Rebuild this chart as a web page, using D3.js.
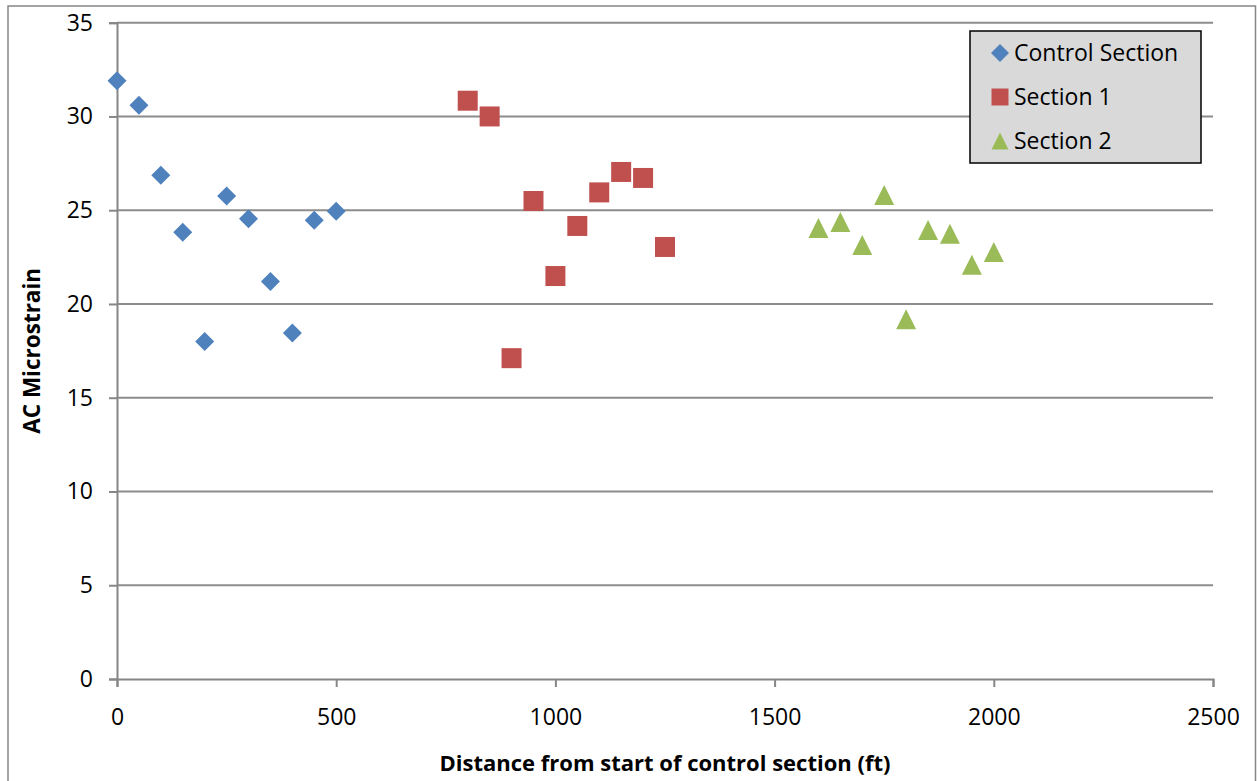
<!DOCTYPE html>
<html>
<head>
<meta charset="utf-8">
<script src="https://cdn.jsdelivr.net/npm/d3@7"></script>
<style>
  body { margin: 0; background: #fff; }
  svg { display: block; font-family: "Open Sans", sans-serif; }
</style>
</head>
<body>
<div id="chart"></div>
<script>
// data
const controlX = [0, 50, 100, 150, 200, 250, 300, 350, 400, 450, 500];
const controlY = [31.9, 30.6, 26.86, 23.83, 18.0, 25.76, 24.55, 21.2, 18.45, 24.46, 24.94];
const section1X = [800, 850, 900, 950, 1000, 1050, 1100, 1150, 1200, 1250];
const section1Y = [30.84, 30.0, 17.11, 25.49, 21.49, 24.16, 25.95, 27.04, 26.72, 23.04];
const section2X = [1600, 1650, 1700, 1750, 1800, 1850, 1900, 1950, 2000];
const section2Y = [24.05, 24.37, 23.14, 25.81, 19.19, 23.94, 23.75, 22.09, 22.77];
const xTicks = [0, 500, 1000, 1500, 2000, 2500];
const yTicks = [0, 5, 10, 15, 20, 25, 30, 35];

const width = 1257, height = 781;
const margin = { top: 22.7, right: 44, bottom: 102, left: 117 };

// excel-like marker shapes
const diamond = {
    draw(ctx, size) {
        const r = Math.sqrt(size) / 2;
        ctx.moveTo(0, -r); ctx.lineTo(r, 0); ctx.lineTo(0, r); ctx.lineTo(-r, 0); ctx.closePath();
    }
};
const square = {
    draw(ctx, size) {
        const r = Math.sqrt(size) / 2;
        ctx.rect(-r, -r, 2 * r, 2 * r);
    }
};
const triangle = {
    draw(ctx, size) {
        const r = Math.sqrt(size) / 2;
        ctx.moveTo(0, -r); ctx.lineTo(r, r); ctx.lineTo(-r, r); ctx.closePath();
    }
};

const series = [
    { name: "Control Section", xs: controlX, ys: controlY, color: "#4F81BD", shape: diamond, size: 19 * 19 },
    { name: "Section 1", xs: section1X, ys: section1Y, color: "#C0504D", shape: square, size: 20 * 20 },
    { name: "Section 2", xs: section2X, ys: section2Y, color: "#9BBB59", shape: triangle, size: 20 * 20 }
];

const svg = d3.select("#chart").append("svg")
    .attr("width", width)
    .attr("height", height);

// outer chart border
svg.append("rect")
    .attr("x", 8).attr("y", 6)
    .attr("width", 1247.5).attr("height", 790)
    .attr("fill", "none")
    .attr("stroke", "#868686")
    .attr("stroke-width", 1.5);

const x = d3.scaleLinear().domain([0, 2500]).range([margin.left, width - margin.right]);
const y = d3.scaleLinear().domain([0, 35]).range([height - margin.bottom, margin.top]);

// gridlines
svg.append("g")
    .selectAll("line")
    .data(yTicks.filter(d => d > 0))
    .enter().append("line")
    .attr("x1", x(0)).attr("x2", x(2500))
    .attr("y1", d => y(d)).attr("y2", d => y(d))
    .attr("stroke", "#8c8c8c")
    .attr("stroke-width", 2);

// axes
const xAxis = svg.append("g")
    .attr("transform", `translate(0,${y(0)})`)
    .call(d3.axisBottom(x).tickValues(xTicks).tickSize(8).tickPadding(22).tickFormat(d3.format("d")));
const yAxis = svg.append("g")
    .attr("transform", `translate(${x(0)},0)`)
    .call(d3.axisLeft(y).tickValues(yTicks).tickSize(8).tickPadding(16));

[xAxis, yAxis].forEach(a => {
    a.select(".domain").attr("stroke", "#868686").attr("stroke-width", 2);
    a.selectAll(".tick line").attr("stroke", "#868686").attr("stroke-width", 2);
    a.selectAll("text").attr("font-size", 23).attr("fill", "#000").attr("font-family", "Open Sans, sans-serif");
});

// axis titles
svg.append("text")
    .attr("x", (x(0) + x(2500)) / 2)
    .attr("y", 771)
    .attr("text-anchor", "middle")
    .attr("font-weight", "bold")
    .attr("font-size", 22)
    .text("Distance from start of control section (ft)");

svg.append("text")
    .attr("transform", `translate(40,${(y(0) + y(35)) / 2}) rotate(-90)`)
    .attr("text-anchor", "middle")
    .attr("font-weight", "bold")
    .attr("font-size", 22.5)
    .text("AC Microstrain");

// points
series.forEach(s => {
    svg.append("g")
        .selectAll("path")
        .data(s.xs.map((d, i) => [d, s.ys[i]]))
        .enter().append("path")
        .attr("transform", d => `translate(${x(d[0])},${y(d[1])})`)
        .attr("d", d3.symbol().type(s.shape).size(s.size))
        .attr("fill", s.color);
});

// legend
const legend = svg.append("g").attr("transform", "translate(970,31)");
legend.append("rect")
    .attr("width", 231).attr("height", 132)
    .attr("fill", "#d9d9d9")
    .attr("stroke", "#000")
    .attr("stroke-width", 1.5);

const item = legend.selectAll(".item")
    .data(series)
    .enter().append("g")
    .attr("transform", (d, i) => `translate(30,${22 + i * 44})`);

item.append("path")
    .attr("d", d => d3.symbol().type(d.shape).size(d.name === "Control Section" ? 18 * 18 : 17 * 17)())
    .attr("fill", d => d.color);

item.append("text")
    .attr("x", 14)
    .attr("dy", "0.35em")
    .attr("font-size", 23)
    .text(d => d.name);
</script>
</body>
</html>
